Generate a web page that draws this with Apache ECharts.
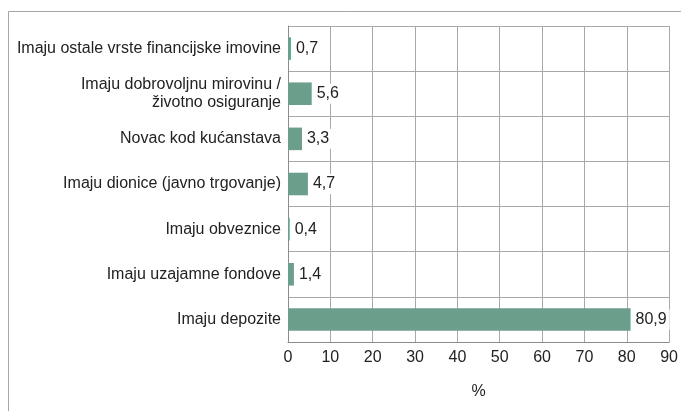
<!DOCTYPE html>
<html>
<head>
<meta charset="utf-8">
<script src="https://cdn.jsdelivr.net/npm/echarts@6/dist/echarts.min.js"></script>
<style>html,body{margin:0;padding:0;background:#fff}#c{width:681px;height:411px}</style>
</head>
<body>
<div id="c"></div>
<script>
const categories = [
  'Imaju depozite',
  'Imaju uzajamne fondove',
  'Imaju obveznice',
  'Imaju dionice (javno trgovanje)',
  'Novac kod kućanstava',
  'Imaju dobrovoljnu mirovinu /\nživotno osiguranje',
  'Imaju ostale vrste financijske imovine'
];
const values = [80.9, 1.4, 0.4, 4.7, 3.3, 5.6, 0.7];
const xTicks = [0, 10, 20, 30, 40, 50, 60, 70, 80, 90];
const axisName = '%';

const chart = echarts.init(document.getElementById('c'), null, {renderer: 'canvas'});
const font = 'Liberation Sans, Arial, sans-serif';
const fs = 16;
chart.setOption({
  animation: false,
  graphic: [{
    type: 'rect', z: -10,
    shape: {x: 8.5, y: 11.5, width: 700, height: 420},
    style: {fill: 'none', stroke: '#a6a6a6', lineWidth: 1}
  }],
  grid: {left: 288, right: 7, top: 26, bottom: 69, containLabel: false},
  xAxis: {
    type: 'value', min: xTicks[0], max: xTicks[xTicks.length - 1], interval: 10,
    name: axisName, nameLocation: 'middle', nameGap: 42,
    nameTextStyle: {fontFamily: font, fontSize: fs, color: '#222'},
    axisLine: {show: true, lineStyle: {color: '#8c8c8c'}},
    axisTick: {show: false},
    axisLabel: {fontFamily: font, fontSize: fs, color: '#222', margin: 8},
    splitLine: {show: true, lineStyle: {color: '#a8a8a8', width: 1}}
  },
  yAxis: {
    type: 'category', data: categories,
    axisLine: {show: true, lineStyle: {color: '#8c8c8c'}},
    axisTick: {show: false},
    axisLabel: {fontFamily: font, fontSize: fs, color: '#222', margin: 7, lineHeight: 18, align: 'right'},
    splitLine: {show: true, lineStyle: {color: '#a8a8a8', width: 1}}
  },
  series: [{
    type: 'bar', data: values, barWidth: '50%',
    itemStyle: {color: '#6b9e8b'},
    label: {
      show: true, position: 'right', distance: 2,
      fontFamily: font, fontSize: fs, color: '#222',
      backgroundColor: '#fff', padding: [2, 3],
      formatter: p => String(p.value).replace('.', ',')
    }
  }]
});
</script>
</body>
</html>
